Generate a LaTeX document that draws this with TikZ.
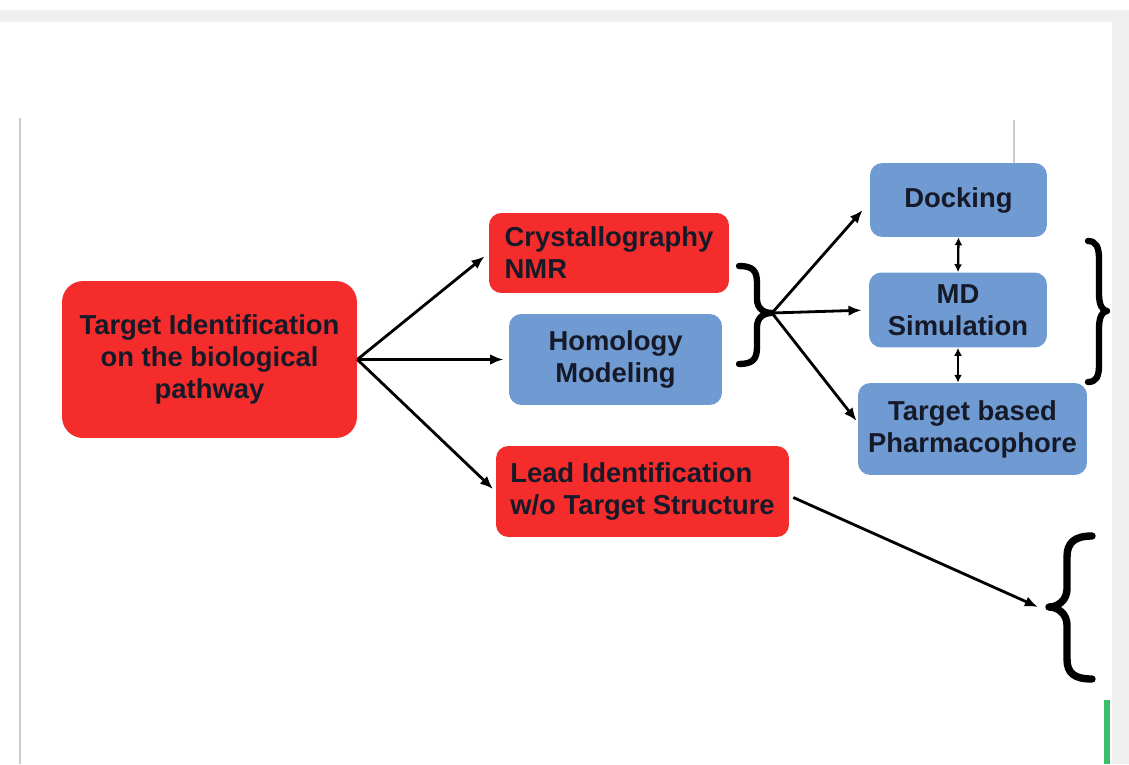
\documentclass[tikz,border=0pt]{standalone}
\usepackage{fontspec}
\setmainfont{Liberation Sans}
\usetikzlibrary{arrows.meta,calc}
\definecolor{boxred}{HTML}{F42C2C}
\definecolor{boxblue}{HTML}{6F9AD2}
\definecolor{ink}{HTML}{161A28}
\definecolor{framegray}{HTML}{CFCAC4}
\definecolor{bandgray}{HTML}{EFEFEF}
\definecolor{stripgreen}{HTML}{3DBE6B}
\begin{document}
\begin{tikzpicture}[x=0.02cm,y=-0.02cm,
  box/.style={rectangle, rounded corners=7pt, text=ink, inner sep=0pt,
    font=\bfseries\fontsize{15.6}{18.2}\selectfont},
  redbox/.style={box, fill=boxred},
  bluebox/.style={box, fill=boxblue},
  arr/.style={line width=1.6pt, -{Latex[length=7.5pt,width=6pt]}},
  dblarr/.style={line width=1.3pt, {Latex[length=4.5pt,width=4.5pt]}-{Latex[length=4.5pt,width=4.5pt]}},
  bracestyle/.style={line width=3.6pt, line cap=round, line join=round},
  frameline/.style={draw=framegray, line width=0.7pt}]
\useasboundingbox (0,0) rectangle (1129,764);
\fill[white] (0,0) rectangle (1129,764);
% window frame elements
\fill[bandgray] (0,10) rectangle (1129,22);
\fill[bandgray] (1112,22) rectangle (1129,764);
\draw[frameline] (20,118) -- (20,764);
\draw[frameline] (1014,120) -- (1014,163);
\fill[stripgreen] (1104,700) rectangle (1110,764);

% nodes
\node[redbox, rounded corners=12pt, minimum width=5.9cm, minimum height=3.14cm, align=center]
  (main) at (209.5,359.5) {Target Identification\\on the biological\\pathway};
\node[redbox, minimum width=4.8cm, minimum height=1.6cm, align=left]
  (cryst) at (609,253) {Crystallography\\NMR};
\node[bluebox, minimum width=4.26cm, minimum height=1.82cm, align=center]
  (homol) at (615.5,359.5) {Homology\\Modeling};
\node[redbox, minimum width=5.86cm, minimum height=1.82cm, align=left]
  (lead) at (642.5,491.5) {Lead Identification\\w/o Target Structure};
\node[bluebox, minimum width=3.54cm, minimum height=1.48cm, align=center]
  (dock) at (958.5,200) {Docking};
\node[bluebox, minimum width=3.56cm, minimum height=1.5cm, align=center]
  (md) at (958,310) {MD\\Simulation};
\node[bluebox, minimum width=4.58cm, minimum height=1.84cm, align=center]
  (pharm) at (972.5,429) {Target based\\Pharmacophore};

% braces
\draw[bracestyle] (739,266) .. controls (753,266) and (757,271) .. (757,283) -- (757,299)
  .. controls (757,308) and (763,313) .. (772,313)
  .. controls (763,313) and (757,318) .. (757,327) -- (757,347)
  .. controls (757,359) and (753,364) .. (739,364);
\coordinate (b1) at (772,313);
\draw[bracestyle] (1088,241) .. controls (1096,241) and (1099,247) .. (1099,259) -- (1099,294)
  .. controls (1099,304) and (1102,311) .. (1107,311)
  .. controls (1102,311) and (1099,318) .. (1099,328) -- (1099,365)
  .. controls (1099,377) and (1096,382) .. (1088,382);
\draw[bracestyle, line width=4.2pt] (1092,536) .. controls (1074,536) and (1067,543) .. (1067,557) -- (1067,589)
  .. controls (1067,600) and (1058,607) .. (1049,607)
  .. controls (1058,607) and (1067,614) .. (1067,625) -- (1067,659)
  .. controls (1067,673) and (1074,679) .. (1092,679);
\coordinate (b3) at (1038,607);

% connectors
\draw[arr, shorten >=3pt] (main.east) -- (cryst.west);
\draw[arr, shorten >=3pt] (main.east) -- (homol.west);
\draw[arr, shorten >=2pt] (main.east) -- (lead.west);
\draw[arr] (b1) -- ($(dock.west)+(-7,10)$);
\draw[arr, shorten >=4pt] (b1) -- (md.west);
\draw[arr] (b1) -- ($(pharm.west)+(-1,-8)$);
\draw[dblarr] (dock.south) -- (md.north);
\draw[dblarr] (md.south) -- (md.south |- pharm.north);
\draw[arr] ($(lead.east)+(4,6)$) -- (b3);
\end{tikzpicture}
\end{document}
